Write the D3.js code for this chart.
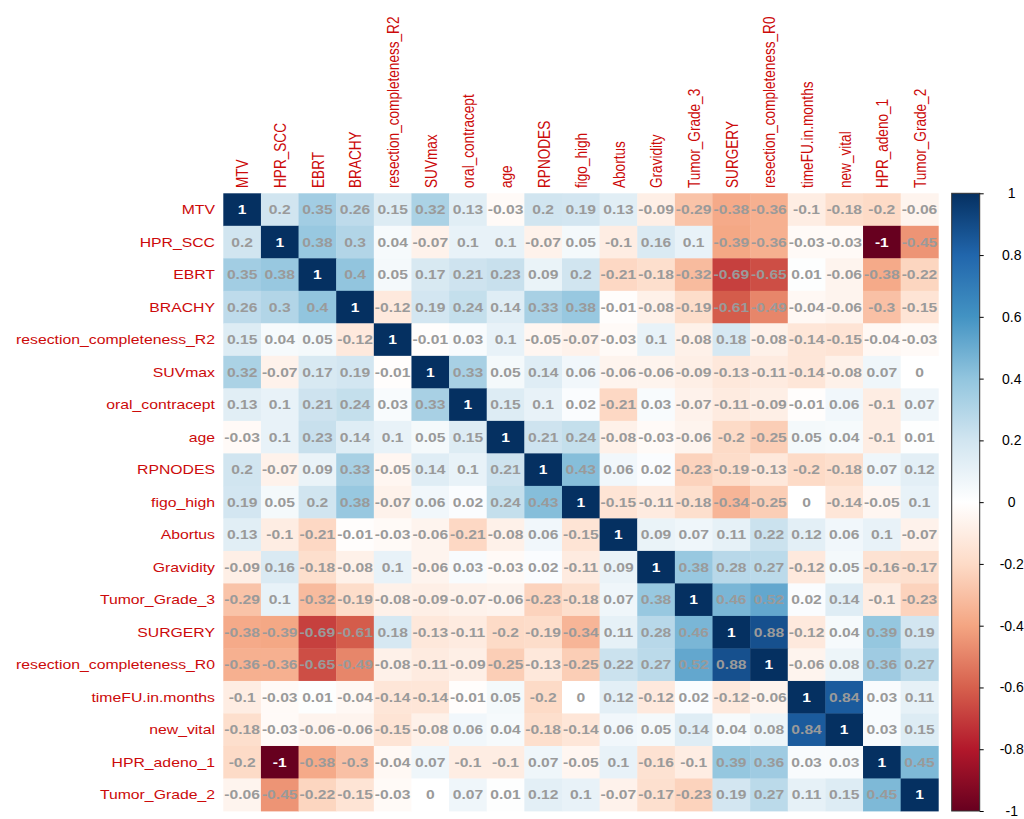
<!DOCTYPE html>
<html><head><meta charset="utf-8">
<script src="https://cdn.jsdelivr.net/npm/d3@7"></script>
<style>
html,body{margin:0;padding:0;background:#fff;}
svg{display:block;font-family:"Liberation Sans",Arial,Helvetica,sans-serif;}
</style>
</head><body>
<svg id="chart" width="1024" height="819"></svg>
<script>
// ---- data ----
const variables = ["MTV","HPR_SCC","EBRT","BRACHY","resection_completeness_R2","SUVmax","oral_contracept","age","RPNODES","figo_high","Abortus","Gravidity","Tumor_Grade_3","SURGERY","resection_completeness_R0","timeFU.in.months","new_vital","HPR_adeno_1","Tumor_Grade_2"];

const rowMTV        = [1, 0.2, 0.35, 0.26, 0.15, 0.32, 0.13, -0.03, 0.2, 0.19, 0.13, -0.09, -0.29, -0.38, -0.36, -0.1, -0.18, -0.2, -0.06];
const rowHPR_SCC    = [0.2, 1, 0.38, 0.3, 0.04, -0.07, 0.1, 0.1, -0.07, 0.05, -0.1, 0.16, 0.1, -0.39, -0.36, -0.03, -0.03, -1, -0.45];
const rowEBRT       = [0.35, 0.38, 1, 0.4, 0.05, 0.17, 0.21, 0.23, 0.09, 0.2, -0.21, -0.18, -0.32, -0.69, -0.65, 0.01, -0.06, -0.38, -0.22];
const rowBRACHY     = [0.26, 0.3, 0.4, 1, -0.12, 0.19, 0.24, 0.14, 0.33, 0.38, -0.01, -0.08, -0.19, -0.61, -0.49, -0.04, -0.06, -0.3, -0.15];
const rowR2         = [0.15, 0.04, 0.05, -0.12, 1, -0.01, 0.03, 0.1, -0.05, -0.07, -0.03, 0.1, -0.08, 0.18, -0.08, -0.14, -0.15, -0.04, -0.03];
const rowSUVmax     = [0.32, -0.07, 0.17, 0.19, -0.01, 1, 0.33, 0.05, 0.14, 0.06, -0.06, -0.06, -0.09, -0.13, -0.11, -0.14, -0.08, 0.07, 0];
const rowOral       = [0.13, 0.1, 0.21, 0.24, 0.03, 0.33, 1, 0.15, 0.1, 0.02, -0.21, 0.03, -0.07, -0.11, -0.09, -0.01, 0.06, -0.1, 0.07];
const rowAge        = [-0.03, 0.1, 0.23, 0.14, 0.1, 0.05, 0.15, 1, 0.21, 0.24, -0.08, -0.03, -0.06, -0.2, -0.25, 0.05, 0.04, -0.1, 0.01];
const rowRPNODES    = [0.2, -0.07, 0.09, 0.33, -0.05, 0.14, 0.1, 0.21, 1, 0.43, 0.06, 0.02, -0.23, -0.19, -0.13, -0.2, -0.18, 0.07, 0.12];
const rowFigo       = [0.19, 0.05, 0.2, 0.38, -0.07, 0.06, 0.02, 0.24, 0.43, 1, -0.15, -0.11, -0.18, -0.34, -0.25, 0, -0.14, -0.05, 0.1];
const rowAbortus    = [0.13, -0.1, -0.21, -0.01, -0.03, -0.06, -0.21, -0.08, 0.06, -0.15, 1, 0.09, 0.07, 0.11, 0.22, 0.12, 0.06, 0.1, -0.07];
const rowGravidity  = [-0.09, 0.16, -0.18, -0.08, 0.1, -0.06, 0.03, -0.03, 0.02, -0.11, 0.09, 1, 0.38, 0.28, 0.27, -0.12, 0.05, -0.16, -0.17];
const rowGrade3     = [-0.29, 0.1, -0.32, -0.19, -0.08, -0.09, -0.07, -0.06, -0.23, -0.18, 0.07, 0.38, 1, 0.46, 0.52, 0.02, 0.14, -0.1, -0.23];
const rowSurgery    = [-0.38, -0.39, -0.69, -0.61, 0.18, -0.13, -0.11, -0.2, -0.19, -0.34, 0.11, 0.28, 0.46, 1, 0.88, -0.12, 0.04, 0.39, 0.19];
const rowR0         = [-0.36, -0.36, -0.65, -0.49, -0.08, -0.11, -0.09, -0.25, -0.13, -0.25, 0.22, 0.27, 0.52, 0.88, 1, -0.06, 0.08, 0.36, 0.27];
const rowTimeFU     = [-0.1, -0.03, 0.01, -0.04, -0.14, -0.14, -0.01, 0.05, -0.2, 0, 0.12, -0.12, 0.02, -0.12, -0.06, 1, 0.84, 0.03, 0.11];
const rowNewVital   = [-0.18, -0.03, -0.06, -0.06, -0.15, -0.08, 0.06, 0.04, -0.18, -0.14, 0.06, 0.05, 0.14, 0.04, 0.08, 0.84, 1, 0.03, 0.15];
const rowAdeno      = [-0.2, -1, -0.38, -0.3, -0.04, 0.07, -0.1, -0.1, 0.07, -0.05, 0.1, -0.16, -0.1, 0.39, 0.36, 0.03, 0.03, 1, 0.45];
const rowGrade2     = [-0.06, -0.45, -0.22, -0.15, -0.03, 0, 0.07, 0.01, 0.12, 0.1, -0.07, -0.17, -0.23, 0.19, 0.27, 0.11, 0.15, 0.45, 1];

const matrix = [rowMTV,rowHPR_SCC,rowEBRT,rowBRACHY,rowR2,rowSUVmax,rowOral,rowAge,rowRPNODES,rowFigo,rowAbortus,rowGravidity,rowGrade3,rowSurgery,rowR0,rowTimeFU,rowNewVital,rowAdeno,rowGrade2];

const colorStops = [-1,-0.8,-0.6,-0.4,-0.2,0,0.2,0.4,0.6,0.8,1];
const palette = ["#67001F","#B2182B","#D6604D","#F4A582","#FDDBC7","#FFFFFF","#D1E5F0","#92C5DE","#4393C3","#2166AC","#053061"];
const colorTicks = [1,0.8,0.6,0.4,0.2,0,-0.2,-0.4,-0.6,-0.8,-1];
const colorTickLabels = ["1","0.8","0.6","0.4","0.2","0","-0.2","-0.4","-0.6","-0.8","-1"];

// ---- drawing ----
const svg = d3.select("#chart");
const SX = 1.16;
const labelRed = "#cc0a0a";

const x = d3.scaleBand().domain(variables).range([223.3, 938.3]);
const y = d3.scaleBand().domain(variables).range([193.3, 811]);
const color = d3.scaleLinear().domain(colorStops).range(palette).clamp(true);

const cells = [];
matrix.forEach((row, i) => row.forEach((v, j) => cells.push({row: variables[i], col: variables[j], v})));

svg.append("g").selectAll("rect").data(cells).join("rect")
  .attr("x", d => x(d.col)).attr("y", d => y(d.row))
  .attr("width", x.bandwidth() + 0.4).attr("height", y.bandwidth() + 0.4)
  .attr("fill", d => color(d.v));

svg.append("g").selectAll("text").data(cells).join("text")
  .attr("transform", d => `translate(${x(d.col) + x.bandwidth()/2},${y(d.row) + y.bandwidth()/2}) scale(${SX},1)`)
  .attr("text-anchor", "middle").attr("dominant-baseline", "central")
  .attr("font-size", 13.5).attr("font-weight", "bold")
  .attr("fill", d => Math.abs(d.v) === 1 ? "#ffffff" : "#9a9a9a")
  .text(d => String(d.v));

// row labels
svg.append("g").selectAll("text").data(variables).join("text")
  .attr("transform", d => `translate(215,${y(d) + y.bandwidth()/2}) scale(${SX},1)`)
  .attr("text-anchor", "end").attr("dominant-baseline", "central")
  .attr("font-size", 13.6).attr("fill", labelRed)
  .text(d => d);

// column labels
svg.append("g").selectAll("text").data(variables).join("text")
  .attr("transform", d => `translate(${x(d) + x.bandwidth()/2 + 1},188) scale(${SX},1) rotate(-90)`)
  .attr("text-anchor", "start").attr("dominant-baseline", "central")
  .attr("font-size", 13.6).attr("fill", labelRed)
  .text(d => d);

// color legend
const defs = svg.append("defs");
const grad = defs.append("linearGradient").attr("id", "cbar")
  .attr("x1", 0).attr("y1", 1).attr("x2", 0).attr("y2", 0);
grad.selectAll("stop").data(colorStops).join("stop")
  .attr("offset", d => (d + 1) / 2)
  .attr("stop-color", d => color(d));

const cScale = d3.scaleLinear().domain([-1, 1]).range([811, 193.3]);
const barX = 951.7, barW = 28;
svg.append("rect")
  .attr("x", barX).attr("y", cScale(1))
  .attr("width", barW).attr("height", cScale(-1) - cScale(1))
  .attr("fill", "url(#cbar)").attr("stroke", "#333").attr("stroke-width", 1);

const axisG = svg.append("g").attr("transform", `translate(${barX + barW},0)`)
  .call(d3.axisRight(cScale).tickValues(colorTicks)
    .tickFormat((d, i) => colorTickLabels[i]).tickSize(4).tickPadding(8));
axisG.select(".domain").remove();
axisG.selectAll(".tick line").attr("stroke", "#000");
axisG.selectAll(".tick text")
  .attr("x", 32).attr("text-anchor", "middle")
  .attr("font-size", 14).attr("font-family", "Liberation Sans, Arial, sans-serif")
  .attr("fill", "#000");
</script>
</body></html>
